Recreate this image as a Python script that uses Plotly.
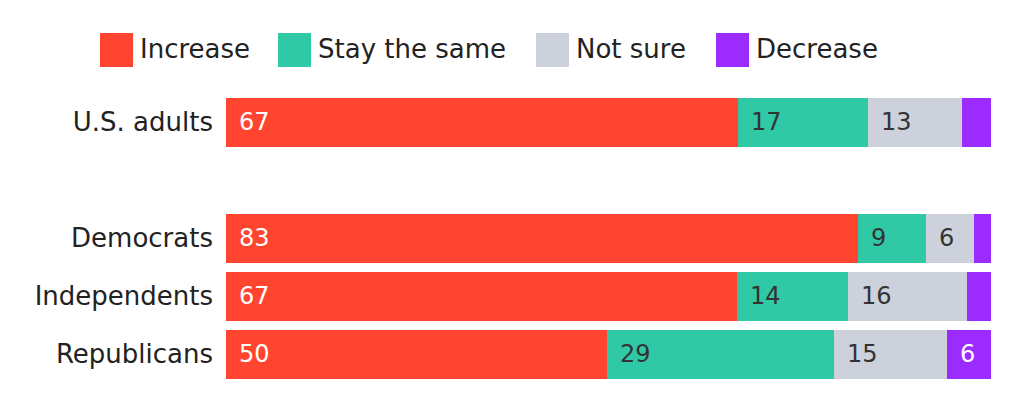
import plotly.graph_objects as go

categories = ["U.S. adults", "Democrats", "Independents", "Republicans"]
series_names = ["Increase", "Stay the same", "Not sure", "Decrease"]
# bar shares (percent of row)
increase = [66.9, 82.6, 66.8, 49.8]
stay_same = [17.0, 8.9, 14.5, 29.7]
not_sure = [12.3, 6.3, 15.5, 14.8]
decrease = [3.8, 2.2, 3.2, 5.7]
# printed value labels
increase_labels = [67, 83, 67, 50]
stay_same_labels = [17, 9, 14, 29]
not_sure_labels = [13, 6, 16, 15]
decrease_labels = [None, None, None, 6]

colors = ["#FF4530", "#30C9A6", "#CDD1DB", "#9B2BFF"]
label_colors = ["#FFFFFF", "#333333", "#333333", "#FFFFFF"]
FONT = "DejaVu Sans"
FS_TEXT = 26
FS_NUM = 24

series = [increase, stay_same, not_sure, decrease]
labels = [increase_labels, stay_same_labels, not_sure_labels, decrease_labels]

# y positions: gap row after the first category
ypos = []
p = 0
for i, c in enumerate(categories):
    ypos.append(p)
    p += 2 if i == 0 else 1

fig = go.Figure()
for name, vals, col in zip(series_names, series, colors):
    fig.add_trace(go.Bar(
        x=vals, y=ypos, name=name, orientation="h",
        marker=dict(color=col, line=dict(width=0)),
        hoverinfo="skip", showlegend=False,
    ))

annotations = []
for r, y in enumerate(ypos):
    cum = 0
    for s, vals in enumerate(series):
        lab = labels[s][r]
        if lab is not None:
            annotations.append(dict(
                x=cum, y=y, xref="x", yref="y", text=str(lab),
                showarrow=False, xanchor="left", yanchor="middle",
                xshift=11, font=dict(family=FONT, size=FS_NUM, color=label_colors[s]),
            ))
        cum += vals[r]

# page offset (body margin) of 8px
OFF = 8
W, H = 1011 - OFF, 413 - OFF
L, R, T, B = 226 - OFF, 20, 93 - OFF, 30
PW, PH = W - L - R, H - T - B

legend_x = [100, 278, 536, 716]
shapes = []
for name, col, lx in zip(series_names, colors, legend_x):
    lx -= OFF
    shapes.append(dict(
        type="rect", xref="paper", yref="paper",
        x0=(lx - L) / PW, x1=(lx + 33 - L) / PW,
        y0=1 + (T - (67 - OFF)) / PH, y1=1 + (T - (33 - OFF)) / PH,
        fillcolor=col, line=dict(width=0),
    ))
    annotations.append(dict(
        x=(lx + 38 - L) / PW, y=1 + (T - (49 - OFF)) / PH, xref="paper", yref="paper",
        text=name, showarrow=False, xanchor="left", yanchor="middle",
        font=dict(family=FONT, size=FS_TEXT, color="#222222"),
    ))

fig.update_layout(
    barmode="stack",
    bargap=0.155,
    width=W, height=H,
    margin=dict(l=L, r=R, t=T, b=B),
    paper_bgcolor="white", plot_bgcolor="white",
    font=dict(family=FONT, size=FS_TEXT, color="#222222"),
    xaxis=dict(range=[0, 100], visible=False, fixedrange=True),
    yaxis=dict(
        range=[max(ypos) + 0.5, -0.5],
        tickvals=ypos, ticktext=categories,
        showgrid=False, zeroline=False, showline=False,
        ticks="", ticklabelstandoff=12,
        tickfont=dict(family=FONT, size=FS_TEXT, color="#222222"),
        fixedrange=True,
    ),
    annotations=annotations,
    shapes=shapes,
)

fig.write_html("out.html", config={"displayModeBar": False})
